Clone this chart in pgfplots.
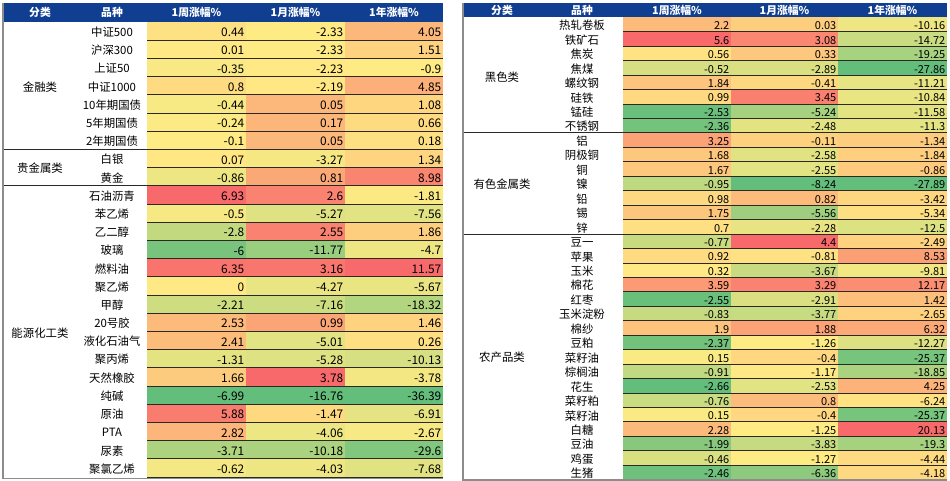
\documentclass[border=0pt]{standalone}
\usepackage{fontspec}
\setmainfont{Noto Sans CJK SC}
\usepackage{pgfplots}
\pgfplotsset{compat=1.18}
\usepackage{pgfplotstable}

\definecolor{hdr}{RGB}{16,62,145}
\definecolor{rowline}{RGB}{45,40,35}
\definecolor{framegray}{RGB}{140,140,140}

\pgfdeclareplotmark{cell}{%
  \pgfpathrectangle{\pgfqpoint{-0.5pt}{-0.5pt}}{\pgfqpoint{1pt}{1pt}}%
  \pgfusepathqfill}

\newcommand\fL{\fontsize{11.4}{13}\selectfont}
\newcommand\fN{\fontsize{11.9}{13}\selectfont}
\newcommand\fR{\fontsize{11}{12}\selectfont}
\newcommand\fH{\fontsize{10.8}{12}\selectfont\bfseries}

\pgfplotstableread{
name a b c
中证500 0.44 -2.33 4.05
沪深300 0.01 -2.33 1.51
上证50 -0.35 -2.23 -0.9
中证1000 0.8 -2.19 4.85
10年期国债 -0.44 0.05 1.08
5年期国债 -0.24 0.17 0.66
2年期国债 -0.1 0.05 0.18
白银 0.07 -3.27 1.34
黄金 -0.86 0.81 8.98
石油沥青 6.93 2.6 -1.81
苯乙烯 -0.5 -5.27 -7.56
乙二醇 -2.8 2.55 1.86
玻璃 -6 -11.77 -4.7
燃料油 6.35 3.16 11.57
聚乙烯 0 -4.27 -5.67
甲醇 -2.21 -7.16 -18.32
20号胶 2.53 0.99 1.46
液化石油气 2.41 -5.01 0.26
聚丙烯 -1.31 -5.28 -10.13
天然橡胶 1.66 3.78 -3.78
纯碱 -6.99 -16.76 -36.39
原油 5.88 -1.47 -6.91
PTA 2.82 -4.06 -2.67
尿素 -3.71 -10.18 -29.6
聚氯乙烯 -0.62 -4.03 -7.68
}\lefttab

\pgfplotstableread{
name a b c
热轧卷板 2.2 0.03 -10.16
铁矿石 5.6 3.08 -14.72
焦炭 0.56 0.33 -19.25
焦煤 -0.52 -2.89 -27.86
螺纹钢 1.84 -0.41 -11.21
硅铁 0.99 3.45 -10.84
锰硅 -2.53 -5.24 -11.58
不锈钢 -2.36 -2.48 -11.3
铝 3.25 -0.11 -1.34
阴极铜 1.68 -2.58 -1.84
铜 1.67 -2.55 -0.86
镍 -0.95 -8.24 -27.89
铅 0.98 0.82 -3.42
锡 1.75 -5.56 -5.34
锌 0.7 -2.28 -12.5
豆一 -0.77 4.4 -2.49
苹果 0.92 -0.81 8.53
玉米 0.32 -3.67 -9.81
棉花 3.59 3.29 12.17
红枣 -2.55 -2.91 1.42
玉米淀粉 -0.83 -3.77 -2.65
棉纱 1.9 1.88 6.32
豆粕 -2.37 -1.26 -12.27
菜籽油 0.15 -0.4 -25.37
棕榈油 -0.91 -1.17 -18.85
花生 -2.66 -2.53 4.25
菜籽粕 -0.76 0.8 -6.24
菜籽油 0.15 -0.4 -25.37
白糖 2.28 -1.25 20.13
豆油 -1.99 -3.83 -19.3
鸡蛋 -0.46 -1.27 -4.44
生猪 -2.46 -6.36 -4.18
}\righttab

\pgfplotsset{
  tablebase/.style={
    x=1pt, y=1pt, xmin=0, xmax=950, ymin=0, ymax=481,
    y dir=reverse, clip=false,
    axis line style={draw=none}, tick style={draw=none},
    xtick=\empty, major tick length=0pt,
    point meta min=0, point meta max=1,
    colormap={excel}{rgb255(0cm)=(99,190,123) rgb255(1cm)=(255,235,132) rgb255(2cm)=(248,105,107)},
    /pgf/number format/.cd, fixed, precision=2, assume math mode=true, /pgfplots/.cd,
  },
  numcell/.style n args={3}{black, scatter, only marks, mark=cell,
    mark options={xscale=#1, yscale=#2},
    scatter/use mapped color={draw=none, fill=mapped color},
    point meta=explicit,
    nodes near coords*={\pgfmathprintnumber{\rawv}},
    every node near coord/.append style={anchor=east, xshift=#3, yshift=-1.3pt, text=black, inner sep=0pt}},
}

\begin{document}
\begin{tikzpicture}
% ================= left table =================
\begin{axis}[tablebase,
  ytick={31.1,49.3,...,468},
  yticklabels from table={\lefttab}{name},
  yticklabel style={anchor=center, xshift=112pt, font=\fL, inner sep=0pt, yshift=-1pt},
]
\path (axis cs:0,0) rectangle (axis cs:950,481);
\fill[hdr] (axis cs:3,3) rectangle (axis cs:443,22);
\addplot[numcell={99.8}{18.7}{48pt},
  visualization depends on={\thisrow{a}\as\rawv},
  every node near coord/.append style={font=\fN}]
  table[x expr=196.5, y expr={22+(\coordindex+0.5)*18.2},
    meta expr={ifthenelse(\thisrow{a}<=-0.1, 0.5*(\thisrow{a}+6.99)/6.89, 0.5+0.5*(\thisrow{a}+0.1)/7.03)}] {\lefttab};
\addplot[numcell={99.8}{18.7}{48pt},
  visualization depends on={\thisrow{b}\as\rawv},
  every node near coord/.append style={font=\fN}]
  table[x expr=295.5, y expr={22+(\coordindex+0.5)*18.2},
    meta expr={ifthenelse(\thisrow{b}<=-2.33, 0.5*(\thisrow{b}+16.76)/14.43, 0.5+0.5*(\thisrow{b}+2.33)/6.11)}] {\lefttab};
\addplot[numcell={98.8}{18.7}{47.5pt},
  visualization depends on={\thisrow{c}\as\rawv},
  every node near coord/.append style={font=\fN}]
  table[x expr=394, y expr={22+(\coordindex+0.5)*18.2},
    meta expr={ifthenelse(\thisrow{c}<=-0.9, 0.5*(\thisrow{c}+36.39)/35.49, 0.5+0.5*(\thisrow{c}+0.9)/12.47)}] {\lefttab};

\node[text=white, font=\fH] at (axis cs:40,12.5) {分类};
\node[text=white, font=\fH] at (axis cs:112,12.5) {品种};
\node[text=white, font=\fH] at (axis cs:196.5,12.5) {1周涨幅\%};
\node[text=white, font=\fH] at (axis cs:295.5,12.5) {1月涨幅\%};
\node[text=white, font=\fH] at (axis cs:394,12.5) {1年涨幅\%};

\node[font=\fL] at (axis cs:40,{22+3.5*18.2+1}) {金融类};
\node[font=\fL] at (axis cs:40,{22+8*18.2+1}) {贵金属类};
\node[font=\fL] at (axis cs:40,{22+17*18.2+2}) {能源化工类};
\end{axis}

% ================= right table =================
\begin{axis}[tablebase,
  ytick={24.525,38.975,...,473},
  yticklabels from table={\righttab}{name},
  yticklabel style={anchor=center, xshift=582pt, font=\fL, inner sep=0pt, yshift=-1pt},
]
\fill[hdr] (axis cs:463,3) rectangle (axis cs:947,17.3);
\addplot[numcell={108.8}{14.9}{52.5pt},
  visualization depends on={\thisrow{a}\as\rawv},
  every node near coord/.append style={font=\fR}]
  table[x expr=677, y expr={17.3+(\coordindex+0.5)*14.45},
    meta expr={ifthenelse(\thisrow{a}<=0.235, 0.5*(\thisrow{a}+2.66)/2.895, 0.5+0.5*(\thisrow{a}-0.235)/5.365)}] {\righttab};
\addplot[numcell={107.8}{14.9}{52pt},
  visualization depends on={\thisrow{b}\as\rawv},
  every node near coord/.append style={font=\fR}]
  table[x expr=784.5, y expr={17.3+(\coordindex+0.5)*14.45},
    meta expr={ifthenelse(\thisrow{b}<=-1.255, 0.5*(\thisrow{b}+8.24)/6.985, 0.5+0.5*(\thisrow{b}+1.255)/5.655)}] {\righttab};
\addplot[numcell={109.8}{14.9}{53pt},
  visualization depends on={\thisrow{c}\as\rawv},
  every node near coord/.append style={font=\fR}]
  table[x expr=892.5, y expr={17.3+(\coordindex+0.5)*14.45},
    meta expr={ifthenelse(\thisrow{c}<=-8.025, 0.5*(\thisrow{c}+27.89)/19.865, 0.5+0.5*(\thisrow{c}+8.025)/28.155)}] {\righttab};

\node[text=white, font=\fH] at (axis cs:502,10.2) {分类};
\node[text=white, font=\fH] at (axis cs:582,10.2) {品种};
\node[text=white, font=\fH] at (axis cs:677,10.2) {1周涨幅\%};
\node[text=white, font=\fH] at (axis cs:784.5,10.2) {1月涨幅\%};
\node[text=white, font=\fH] at (axis cs:892.5,10.2) {1年涨幅\%};

\node[font=\fL] at (axis cs:502,{17.3+4*14.45+2}) {黑色类};
\node[font=\fL] at (axis cs:502,{17.3+11.5*14.45+1}) {有色金属类};
\node[font=\fL] at (axis cs:502,{17.3+23.5*14.45}) {农产品类};
\end{axis}

% ================= grid lines on top (y measured from the top edge, 481pt) =================
\foreach \i in {1,...,25}
  \draw[rowline, line width=0.8pt] (147pt,{(459-\i*18.2)*1pt}) -- (443pt,{(459-\i*18.2)*1pt});
\foreach \i in {1,...,32}
  \draw[rowline, line width=0.8pt] (623pt,{(463.7-\i*14.45)*1pt}) -- (947pt,{(463.7-\i*14.45)*1pt});
\draw[rowline, line width=0.8pt] (3pt,{(459-7*18.2)*1pt}) -- (443pt,{(459-7*18.2)*1pt});
\draw[rowline, line width=0.8pt] (3pt,{(459-9*18.2)*1pt}) -- (443pt,{(459-9*18.2)*1pt});
\draw[rowline, line width=0.8pt] (463pt,{(463.7-8*14.45)*1pt}) -- (947pt,{(463.7-8*14.45)*1pt});
\draw[rowline, line width=0.8pt] (463pt,{(463.7-15*14.45)*1pt}) -- (947pt,{(463.7-15*14.45)*1pt});
\draw[framegray, line width=1.3pt] (3pt,478pt) -- (3pt,2.5pt) -- (443pt,2.5pt);
\draw[framegray, line width=1.3pt] (463pt,478pt) -- (463pt,1pt) -- (947pt,1pt);
\end{tikzpicture}
\end{document}
